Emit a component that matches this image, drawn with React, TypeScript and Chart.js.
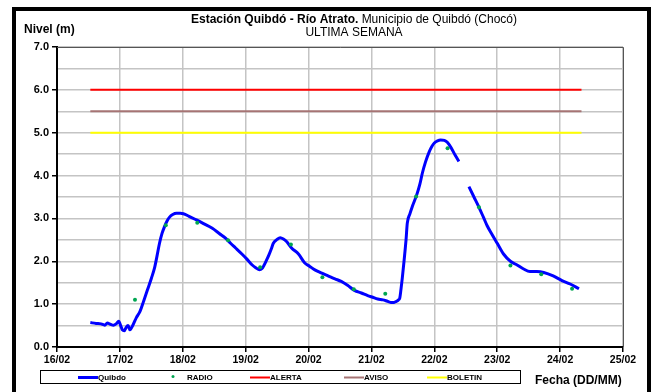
import React, { useEffect, useRef } from "react";
import { Chart, registerables } from "chart.js";

Chart.register(...registerables);

// ---- Data ----
const dayLabels = ["16/02", "17/02", "18/02", "19/02", "20/02", "21/02", "22/02", "23/02", "24/02", "25/02"];

// days after 16/02 00:00, level in metres (null = gap in record)
const quibdoDays = [
  0.53, 0.62, 0.70, 0.76, 0.80, 0.85, 0.90, 0.95, 0.98, 1.02, 1.04, 1.07, 1.10, 1.13, 1.16, 1.21,
  1.26, 1.32, 1.38, 1.44, 1.50, 1.55, 1.59, 1.63, 1.67, 1.71, 1.75, 1.79, 1.84, 1.90, 1.96, 2.01,
  2.10, 2.21, 2.33, 2.47, 2.58, 2.68, 2.76, 2.84, 2.94, 3.02, 3.10, 3.16, 3.22, 3.26, 3.29, 3.33,
  3.37, 3.41, 3.44, 3.50, 3.55, 3.60, 3.65, 3.73, 3.84, 3.94, 4.02, 4.10, 4.20, 4.31, 4.42, 4.52,
  4.62, 4.73, 4.84, 4.94, 5.02, 5.10, 5.18, 5.23, 5.31, 5.36, 5.39, 5.43, 5.45, 5.47, 5.49, 5.52,
  5.55, 5.57, 5.61, 5.65, 5.72, 5.77, 5.81, 5.86, 5.92, 5.96, 6.00, 6.05, 6.10, 6.16, 6.21, 6.27,
  6.33, 6.39, 6.47, 6.55, 6.63, 6.71, 6.78, 6.84, 6.92, 7.00, 7.10, 7.21, 7.31, 7.42, 7.52, 7.63,
  7.74, 7.89, 8.03, 8.16, 8.30,
];
const quibdoLevels = [
  0.57, 0.55, 0.54, 0.51, 0.56, 0.53, 0.51, 0.55, 0.60, 0.47, 0.40, 0.38, 0.46, 0.50, 0.40, 0.52,
  0.68, 0.83, 1.08, 1.34, 1.60, 1.84, 2.12, 2.42, 2.65, 2.81, 2.94, 3.03, 3.09, 3.12, 3.12, 3.11,
  3.05, 2.97, 2.88, 2.77, 2.65, 2.54, 2.42, 2.31, 2.17, 2.05, 1.92, 1.85, 1.80, 1.83, 1.90, 2.02,
  2.15, 2.30, 2.42, 2.51, 2.55, 2.52, 2.46, 2.31, 2.17, 1.96, 1.88, 1.80, 1.73, 1.66, 1.59, 1.53,
  1.44, 1.32, 1.26, 1.20, 1.16, 1.12, 1.10, 1.08, 1.04, 1.04, 1.06, 1.10, 1.14, 1.35, 1.60, 2.03,
  2.50, 2.89, 3.10, 3.28, 3.55, 3.80, 4.06, 4.32, 4.56, 4.68, 4.76, 4.81, 4.83, 4.82, 4.77, 4.64,
  4.48, 4.33, null, 3.74, 3.50, 3.26, 3.03, 2.83, 2.62, 2.42, 2.17, 2.00, 1.92, 1.82, 1.76, 1.76,
  1.74, 1.66, 1.55, 1.47, 1.36,
];

const radioDays = [1.24, 1.73, 2.23, 2.72, 3.23, 3.72, 4.22, 4.72, 5.22, 5.71, 6.21, 6.71, 7.21, 7.70, 8.19];
const radioLevels = [1.10, 2.84, 2.90, 2.49, 1.86, 2.39, 1.63, 1.35, 1.24, 3.51, 4.64, 3.26, 1.90, 1.70, 1.36];

const thresholdDays = [0.53, 8.34];
const alertaLevel = 6.0;
const avisoLevel = 5.5;
const boletinLevel = 5.0;

const seriesNames = ["Quibdo", "RADIO", "ALERTA", "AVISO", "BOLETIN"];
const seriesColors = ["#0000ff", "#00a651", "#ff0000", "#a67474", "#ffff00"];

const FONT = "'Liberation Sans', Arial, sans-serif";

const decorPlugin = {
  id: "decor",
  beforeDraw(chart: any) {
    const ctx = chart.ctx;
    ctx.save();
    ctx.fillStyle = "#ffffff";
    ctx.fillRect(0, 0, chart.width, chart.height);
    ctx.restore();
  },
  afterDraw(chart: any) {
    const ctx = chart.ctx;
    const ca = chart.chartArea;
    ctx.save();
    // plot area top/right border
    ctx.strokeStyle = "#555555";
    ctx.lineWidth = 1;
    ctx.beginPath();
    ctx.moveTo(ca.left, ca.top + 0.5);
    ctx.lineTo(ca.right + 0.5, ca.top + 0.5);
    ctx.lineTo(ca.right + 0.5, ca.bottom);
    ctx.stroke();

    // outer frame
    ctx.strokeStyle = "#000000";
    ctx.lineWidth = 4;
    ctx.strokeRect(14, 9, 635, 400);

    // title
    ctx.fillStyle = "#000000";
    ctx.textBaseline = "middle";
    const boldPart = "Estación Quibdó - Río Atrato.";
    const normPart = " Municipio de Quibdó (Chocó)";
    ctx.font = `bold 12px ${FONT}`;
    const wb = ctx.measureText(boldPart).width;
    ctx.font = `12px ${FONT}`;
    const wn = ctx.measureText(normPart).width;
    const cx = 354;
    let sx = cx - (wb + wn) / 2;
    ctx.textAlign = "left";
    ctx.font = `bold 12px ${FONT}`;
    ctx.fillText(boldPart, sx, 20);
    ctx.font = `12px ${FONT}`;
    ctx.fillText(normPart, sx + wb, 20);
    ctx.textAlign = "center";
    ctx.fillText("ULTIMA SEMANA", cx, 33);

    // y axis title
    ctx.textAlign = "left";
    ctx.font = `bold 12px ${FONT}`;
    ctx.fillText("Nivel (m)", 24, 30);

    // x axis title
    ctx.font = `bold 12px ${FONT}`;
    ctx.fillText("Fecha (DD/MM)", 535, 381);

    // legend box
    ctx.strokeStyle = "#000000";
    ctx.lineWidth = 1;
    ctx.strokeRect(40.5, 370.5, 480, 13);
    ctx.font = `bold 8px ${FONT}`;
    ctx.textBaseline = "middle";
    const ly = 377.5;
    const items = [
      { x: 78, kind: "line" },
      { x: 173, kind: "dot" },
      { x: 250, kind: "line" },
      { x: 344, kind: "line" },
      { x: 427, kind: "line" },
    ];
    items.forEach((it, i) => {
      ctx.fillStyle = seriesColors[i];
      ctx.strokeStyle = seriesColors[i];
      if (it.kind === "line") {
        ctx.lineWidth = i === 0 ? 3 : 2;
        ctx.beginPath();
        ctx.moveTo(it.x, ly);
        ctx.lineTo(it.x + 20, ly);
        ctx.stroke();
        ctx.fillStyle = "#000000";
        ctx.fillText(seriesNames[i], it.x + 20, ly);
      } else {
        ctx.beginPath();
        ctx.arc(it.x, ly - 1, 1.5, 0, Math.PI * 2);
        ctx.fill();
        ctx.fillStyle = "#000000";
        ctx.fillText(seriesNames[i], it.x + 14, ly);
      }
    });
    ctx.restore();
  },
};

export default function App() {
  const ref = useRef<HTMLCanvasElement | null>(null);
  useEffect(() => {
    if (!ref.current) return;
    const quibdoData = quibdoDays.map((d, i) => ({ x: d, y: quibdoLevels[i] }));
    const radioData = radioDays.map((d, i) => ({ x: d, y: radioLevels[i] }));
    const th = (lvl: number) => thresholdDays.map((d) => ({ x: d, y: lvl }));
    const chart = new Chart(ref.current, {
      type: "line",
      data: {
        datasets: [
          {
            label: seriesNames[2],
            data: th(alertaLevel),
            borderColor: seriesColors[2],
            borderWidth: 2,
            pointRadius: 0,
            order: 3,
          },
          {
            label: seriesNames[3],
            data: th(avisoLevel),
            borderColor: seriesColors[3],
            borderWidth: 2,
            pointRadius: 0,
            order: 3,
          },
          {
            label: seriesNames[4],
            data: th(boletinLevel),
            borderColor: seriesColors[4],
            borderWidth: 2,
            pointRadius: 0,
            order: 3,
          },
          {
            label: seriesNames[0],
            data: quibdoData as any,
            borderColor: seriesColors[0],
            borderWidth: 3,
            pointRadius: 0,
            spanGaps: false,
            cubicInterpolationMode: "monotone",
            order: 2,
          },
          {
            label: seriesNames[1],
            data: radioData,
            showLine: false,
            pointRadius: 2,
            pointBackgroundColor: seriesColors[1],
            pointBorderColor: seriesColors[1],
            pointBorderWidth: 0,
            order: 1,
          },
        ],
      },
      options: {
        animation: false,
        responsive: false,
        devicePixelRatio: 1,
        layout: { padding: { left: 17, top: 47, right: 28, bottom: 20 } },
        plugins: { legend: { display: false }, title: { display: false }, tooltip: { enabled: false } },
        scales: {
          x: {
            type: "linear",
            min: 0,
            max: 9,
            afterFit: (s: any) => {
              s.height = 25;
            },
            ticks: {
              stepSize: 1,
              autoSkip: false,
              maxRotation: 0,
              padding: 2,
              color: "#000000",
              font: { family: FONT, weight: "bold", size: 10.5 },
              callback: (v: any) => dayLabels[Math.round(v)] ?? "",
            },
            grid: { color: "#c4c4c4", lineWidth: 1.5, tickColor: "#000000", tickLength: 5 },
            border: { color: "#000000", width: 2 },
          },
          y: {
            min: 0,
            max: 7,
            afterFit: (s: any) => {
              s.width = 40;
            },
            ticks: {
              stepSize: 0.5,
              autoSkip: false,
              padding: 3,
              color: "#000000",
              font: { family: FONT, weight: "bold", size: 11 },
              callback: (v: any) => (Math.abs(v % 1) < 1e-6 ? Number(v).toFixed(1) : ""),
            },
            grid: {
              color: "#c4c4c4",
              lineWidth: 1.5,
              tickLength: 5,
              tickColor: (c: any) => (c.tick && Math.abs(c.tick.value % 1) < 1e-6 ? "#000000" : "rgba(0,0,0,0)"),
            },
            border: { color: "#000000", width: 2 },
          },
        },
      },
      plugins: [decorPlugin],
    });
    return () => chart.destroy();
  }, []);
  return (
    <div style={{ position: "absolute", left: 0, top: 0, width: 651, height: 392, background: "#fff" }}>
      <canvas ref={ref} width={651} height={392} style={{ width: 651, height: 392, display: "block" }} />
    </div>
  );
}
